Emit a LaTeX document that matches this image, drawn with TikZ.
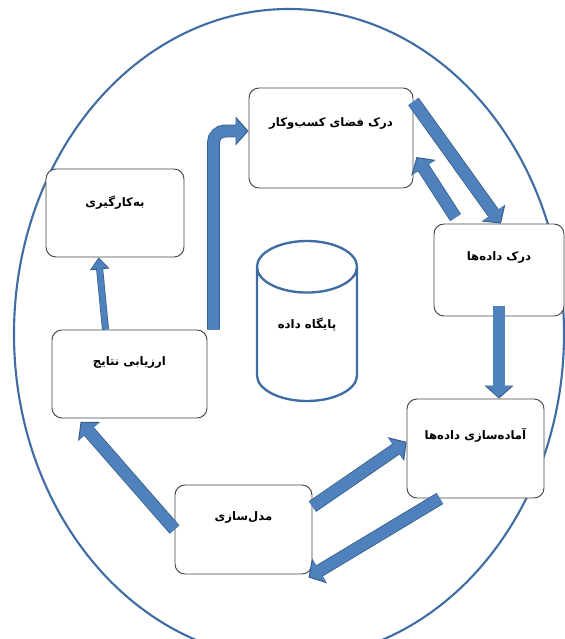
\documentclass[tikz,border=0pt]{standalone}
\usepackage{fontspec}
\newfontfamily\farsi[Script=Arabic]{DejaVu Sans}
\TeXXeTstate=1
\usetikzlibrary{positioning}
\usetikzlibrary{arrows.meta}
\usetikzlibrary{shapes.geometric}
\definecolor{ringblue}{HTML}{3F6CA3}
\definecolor{arrowfill}{HTML}{4F81BD}
\definecolor{arrowedge}{HTML}{385D8A}
\definecolor{boxline}{HTML}{454545}

\begin{document}
\begin{tikzpicture}[x=0.03cm, y=-0.03cm,
		box/.style={draw=boxline, fill=white, rounded corners=0.3cm, line width=0.8pt},
		boxtext/.style={font=\farsi\bfseries\fontsize{10}{12}\selectfont, inner sep=0pt},
		flow/.style={draw=arrowedge, line width=11pt, -{Triangle[length=0pt 1, width=0pt 2.2]},
			postaction={draw=arrowfill, line width=9.6pt, -{Triangle[length=0pt 1, width=0pt 2.2]}, shorten >=1.3pt}},
		thinflow/.style={draw=arrowedge, line width=6pt, -{Triangle[length=0pt 1.7, width=0pt 2.7]},
			postaction={draw=arrowfill, line width=4.8pt, -{Triangle[length=0pt 1.7, width=0pt 2.7]}, shorten >=1.1pt}}
		]
		\clip (0,0) rectangle (565,639);
		% Ring
		\draw[ringblue, line width=1.8pt] (289,334) ellipse [x radius=8.25cm, y radius=9.75cm];
		
		% Boxes
		\node[box, minimum width=4.92cm, minimum height=3cm] (bizbox) at (331,138) {};
		\node[box, minimum width=3.9cm, minimum height=2.76cm] (databox) at (499,270) {};
		\node[box, minimum width=4.11cm, minimum height=2.97cm] (prepbox) at (475.5,448.5) {};
		\node[box, minimum width=4.11cm, minimum height=2.67cm] (modelbox) at (243.5,529.5) {};
		\node[box, minimum width=4.65cm, minimum height=2.64cm] (evalbox) at (129.5,374) {};
		\node[box, minimum width=4.14cm, minimum height=2.64cm] (deploybox) at (115,213) {};
		
		% Database
		\node[cylinder, shape border rotate=90, aspect=11, inner sep=2pt, draw=ringblue, line width=2pt,
			minimum width=3cm, minimum height=4.8cm, anchor=shape center] (db) at (307,321) {};
		\node[boxtext] (dbtext) at ([yshift=-0.1cm]db.shape center) {\beginR پایگاه داده\endR};
		
		% Labels
		\node[boxtext] (biztext) at ([yshift=-1.08cm]bizbox.north) {\beginR درک فضای کسب‌وکار\endR};
		\node[boxtext] (datatext) at ([yshift=-1.02cm]databox.north) {\beginR درک داده‌ها\endR};
		\node[boxtext] (preptext) at ([yshift=-1.11cm]prepbox.north) {\beginR آماده‌سازی داده‌ها\endR};
		\node[boxtext] (modeltext) at ([yshift=-0.99cm]modelbox.north) {\beginR مدل‌سازی\endR};
		\node[boxtext] (evaltext) at ([yshift=-0.99cm]evalbox.north) {\beginR ارزیابی نتایج\endR};
		\node[boxtext] (deploytext) at ([yshift=-1.02cm]deploybox.north) {\beginR به‌کارگیری\endR};
		
		% Arrows
		\draw[flow, rounded corners=0.35cm] ([xshift=0.18cm]evalbox.north east) |- ([yshift=0.21cm]bizbox.west);
		\draw[flow] ([yshift=-0.42cm]bizbox.north east) -- ([xshift=0.06cm]databox.north);
		\draw[flow] ([xshift=0.66cm, yshift=0.18cm]databox.north west) -- ([xshift=0.09cm, yshift=-0.57cm]bizbox.east);
		\draw[flow] ([yshift=0.3cm]databox.south) -- (databox.south |- prepbox.north);
		\draw[flow] ([yshift=-0.66cm]modelbox.north east) -- ([yshift=0.2cm]prepbox.west);
		\draw[flow] ([xshift=1cm]prepbox.south west) -- ([xshift=-0.12cm, yshift=-0.09cm]modelbox.south east);
		\draw[flow] (modelbox.west) -- ([xshift=0.87cm, yshift=-0.1cm]evalbox.south west);
		\draw[thinflow] ([xshift=1.62cm]evalbox.north west) -- ([xshift=1.59cm]deploybox.south west);
	\end{tikzpicture}
\end{document}
